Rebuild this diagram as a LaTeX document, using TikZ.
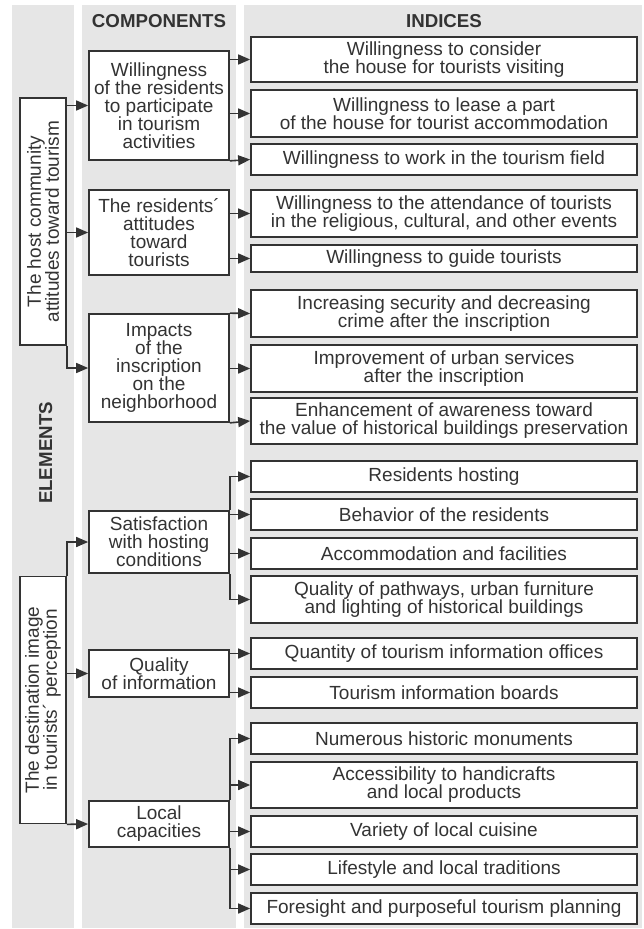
\documentclass[tikz,border=0pt]{standalone}
\usepackage{fontspec}
\setmainfont{Liberation Sans}
\usetikzlibrary{arrows.meta}
\definecolor{colbg}{HTML}{E6E6E6}
\definecolor{ink}{HTML}{333333}
\tikzset{
  box/.style={draw=ink, line width=1.7pt, fill=white, text=ink, inner sep=0pt,
    align=center, font=\fontsize{19}{18}\selectfont},
  elem/.style={box, minimum width=46, minimum height=247},
  elemtext/.style={rotate=90, text=ink, align=center, inner sep=0pt,
    font=\fontsize{19}{18}\selectfont},
  comp/.style={box, minimum width=140},
  indx/.style={box, minimum width=386},
  conn/.style={draw=ink, line width=1.6pt, -{Triangle[length=12pt,width=10pt]}},
  head/.style={text=ink, inner sep=0pt, font=\fontsize{18.7}{20}\selectfont\bfseries},
}
\begin{document}
\begin{tikzpicture}[x=1pt,y=-1pt]
\useasboundingbox (0,0) rectangle (644,929);
% columns
\fill[colbg] (12,5) rectangle (74,928);
\fill[colbg] (82,5) rectangle (236,928);
\fill[colbg] (244,5) rectangle (642,928);
\node[head, anchor=base] (hcomp) at (159,27) {COMPONENTS};
\node[head, anchor=base] (hind) at (444,27) {INDICES};
\node[head, rotate=90, anchor=base] (helem) at (52,453) {ELEMENTS};

% elements
\node[elem] (E1) at (43,221.5) {};
\node[elemtext] (E1t) at (E1) {The host community\\attitudes toward tourism};
\node[elem] (E2) at (43,700) {};
\node[elemtext] (E2t) at (E2) {The destination image\\in tourists´ perception};

% components
\node[comp, minimum height=109] (C1) at (159,105.5) {Willingness\\of the residents\\to participate\\in tourism\\activities};
\node[comp, minimum height=85] (C2) at (159,232.5) {The residents´\\attitudes\\toward\\tourists};
\node[comp, minimum height=108] (C3) at (159,368) {Impacts\\of the\\inscription\\on the\\neighborhood};
\node[comp, minimum height=62] (C4) at (159,542) {Satisfaction\\with hosting\\conditions};
\node[comp, minimum height=47] (C5) at (159,673.5) {Quality\\of information};
\node[comp, minimum height=46] (C6) at (159,824) {Local\\capacities};

% indices
\node[indx, minimum height=45] (I1) at (444,59.5) {Willingness to consider\\the house for tourists visiting};
\node[indx, minimum height=47] (I2) at (444,113.5) {Willingness to lease a part\\of the house for tourist accommodation};
\node[indx, minimum height=31] (I3) at (444,159.5) {Willingness to work in the tourism field};
\node[indx, minimum height=47] (I4) at (444,213.5) {Willingness to the attendance of tourists\\in the religious, cultural, and other events};
\node[indx, minimum height=27] (I5) at (444,258.5) {Willingness to guide tourists};
\node[indx, minimum height=47] (I6) at (444,313.5) {Increasing security and decreasing\\crime after the inscription};
\node[indx, minimum height=47] (I7) at (444,368.5) {Improvement of urban services\\after the inscription};
\node[indx, minimum height=46] (I8) at (444,421) {Enhancement of awareness toward\\the value of historical buildings preservation};
\node[indx, minimum height=31] (I9) at (444,476.5) {Residents hosting};
\node[indx, minimum height=31] (I10) at (444,514.5) {Behavior of the residents};
\node[indx, minimum height=31] (I11) at (444,553.5) {Accommodation and facilities};
\node[indx, minimum height=47] (I12) at (444,599.5) {Quality of pathways, urban furniture\\and lighting of historical buildings};
\node[indx, minimum height=31] (I13) at (444,653.5) {Quantity of tourism information offices};
\node[indx, minimum height=31] (I14) at (444,692.5) {Tourism information boards};
\node[indx, minimum height=31] (I15) at (444,738.5) {Numerous historic monuments};
\node[indx, minimum height=46] (I16) at (444,785) {Accessibility to handicrafts\\and local products};
\node[indx, minimum height=31] (I17) at (444,831.5) {Variety of local cuisine};
\node[indx, minimum height=31] (I18) at (444,869.5) {Lifestyle and local traditions};
\node[indx, minimum height=31] (I19) at (444,908.5) {Foresight and purposeful tourism planning};

% elements to components
\draw[conn] (E1.east |- C1.west) -- (C1.west);
\draw[conn] (E1.east |- C2.west) -- (C2.west);
\draw[conn] (E1.south east) |- (C3.west);
\draw[conn] (E2.north east) |- (C4.west);
\draw[conn] (E2.east |- C5.west) -- (C5.west);
\draw[conn] (E2.south east) -- (C6.west);

% components to indices
\draw[conn] (C1.east |- I1.west) -- (I1.west);
\draw[conn] (C1.east |- I2.west) -- (I2.west);
\draw[conn] (C1.south east) -- (I3.west);
\draw[conn] (C2.east |- I4.west) -- (I4.west);
\draw[conn] (C2.east |- I5.west) -- (I5.west);
\draw[conn] (C3.north east) -- (I6.west);
\draw[conn] (C3.east |- I7.west) -- (I7.west);
\draw[conn] (C3.south east) -- (I8.west);
\draw[conn] (C4.north east) |- (I9.west);
\draw[conn] (C4.east |- I10.west) -- (I10.west);
\draw[conn] (C4.east |- I11.west) -- (I11.west);
\draw[conn] (C4.south east) |- (I12.west);
\draw[conn] (C5.east |- I13.west) -- (I13.west);
\draw[conn] (C5.east |- I14.west) -- (I14.west);
\draw[conn] (C6.north east) |- (I15.west);
\draw[conn] (C6.north east) |- (I16.west);
\draw[conn] (C6.east |- I17.west) -- (I17.west);
\draw[conn] (C6.south east) |- (I18.west);
\draw[conn] (C6.south east) |- (I19.west);
\end{tikzpicture}
\end{document}
